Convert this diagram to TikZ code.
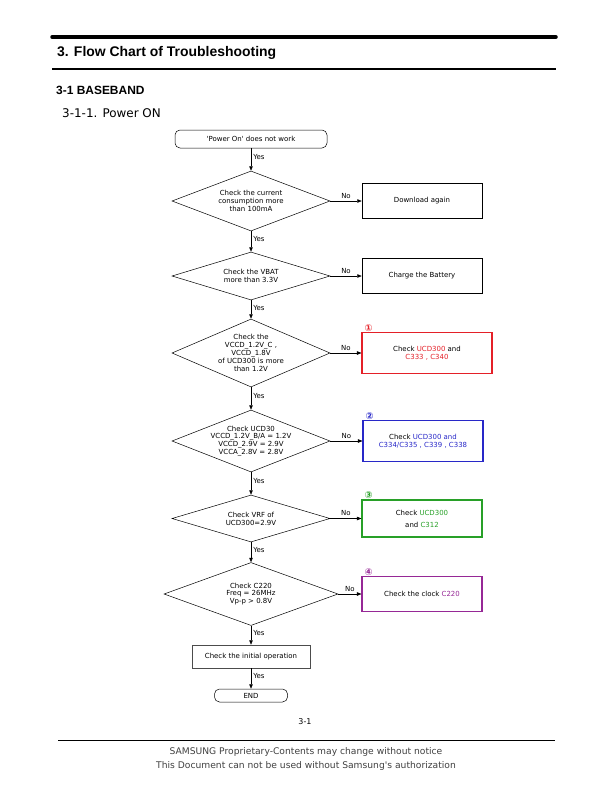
\documentclass[tikz,border=0pt]{standalone}
\usepackage{fontspec}
\setmainfont{Liberation Sans}
\newfontfamily\chartfont{DejaVu Sans}
\usetikzlibrary{shapes.geometric,arrows.meta}

\definecolor{ckred}{RGB}{228,32,40}
\definecolor{ckblue}{RGB}{40,40,200}
\definecolor{ckgreen}{RGB}{40,160,40}
\definecolor{ckpurple}{RGB}{150,40,150}

\tikzset{
  chart/.style={font=\chartfont\fontsize{7}{7.9}\selectfont},
  decision/.style={diamond, draw, line width=0.5bp, chart, align=center,
    inner sep=-12bp, aspect=2.6, minimum width=158bp, minimum height=#1},
  decision/.default=60bp,
  process/.style={rectangle, draw, line width=0.5bp, chart, align=center,
    minimum width=120bp, minimum height=35bp},
  checkbox/.style={process, line width=1.1bp, draw=#1, minimum height=41bp},
  terminal/.style={rectangle, rounded corners=5bp, draw, line width=0.5bp, chart},
  num/.style={anchor=south west, inner sep=0.5bp, xshift=2.5bp,
    font=\chartfont\bfseries\fontsize{9.5}{9.5}\selectfont},
  arr/.style={-{Triangle[length=4.5bp,width=3.5bp]}, line width=0.5bp},
  yes/.style={pos=0.4, anchor=west, inner sep=2bp, chart},
  no/.style={midway, anchor=south, inner sep=2.5bp, chart},
  foot/.style={text=black!75, font=\chartfont\fontsize{9.2}{11}\selectfont},
}

\begin{document}
\begin{tikzpicture}[x=1bp,y=-1bp]
\useasboundingbox (0,0) rectangle (612,792);

% page head
\draw[line width=3.5bp, line cap=round] (52,37) -- (556,37);
\node[anchor=base west, inner sep=0pt, font=\bfseries\fontsize{14}{16}\selectfont] (title) at (57,57) {3. Flow Chart of Troubleshooting};
\draw[line width=2bp] (52,69) -- (556,69);
\node[anchor=base west, inner sep=0pt, font=\bfseries\fontsize{12}{14}\selectfont] (sect) at (56,94) {3-1 BASEBAND};
\node[anchor=base west, inner sep=0pt, font=\chartfont\fontsize{12}{14}\selectfont] (subsect) at (62,117) {3-1-1. Power ON};

% main column
\node[terminal, minimum width=152bp, minimum height=18bp] (start) at (251,139) {\textquotesingle Power On\textquotesingle{} does not work};
\node[decision=60bp] (d1) at (251,201) {Check the current\\consumption more\\than 100mA};
\node[decision=48bp] (d2) at (251,276) {Check the VBAT\\more than 3.3V};
\node[decision=68bp] (d3) at (251,353) {Check the\\VCCD\_1.2V\_C ,\\VCCD\_1.8V\\of UCD300 is more\\than 1.2V};
\node[decision=62bp] (d4) at (251,441) {Check UCD30\\VCCD\_1.2V\_B/A = 1.2V\\VCCD\_2.9V = 2.9V\\VCCA\_2.8V = 2.8V};
\node[decision=47bp] (d5) at (251,518.5) {Check VRF of\\UCD300=2.9V};
\node[decision=63bp, minimum width=174bp] (d6) at (251,594) {Check C220\\Freq = 26MHz\\Vp-p > 0.8V};
\node[process, minimum width=118bp, minimum height=23bp, draw=black!70] (init) at (251,656.5) {Check the initial operation};
\node[terminal, minimum width=73bp, minimum height=13bp] (end) at (251,695.5) {END};

% right column
\node[process] (b1) at (422,201) {Download again};
\node[process] (b2) at (422,276) {Charge the Battery};
\node[checkbox=ckred, minimum width=130bp] (b3) at (427,353) {Check \textcolor{ckred}{UCD300} and\\\textcolor{ckred}{C333 , C340}};
\node[checkbox=ckblue] (b4) at (423,441) {Check \textcolor{ckblue}{UCD300 and}\\\textcolor{ckblue}{C334/C335 , C339 , C338}};
\node[checkbox=ckgreen, minimum height=37bp] (b5) at (422,518.5) {Check \textcolor{ckgreen}{UCD300}\\[4bp]and \textcolor{ckgreen}{C312}};
\node[checkbox=ckpurple, minimum height=35bp] (b6) at (422,594) {Check the clock \textcolor{ckpurple}{C220}};

\node[num, text=ckred] (n1) at (b3.north west) {①};
\node[num, text=ckblue] (n2) at (b4.north west) {②};
\node[num, text=ckgreen] (n3) at (b5.north west) {③};
\node[num, text=ckpurple] (n4) at (b6.north west) {④};

% yes path
\draw[arr] (start) -- (d1) node[yes] {Yes};
\draw[arr] (d1) -- (d2) node[yes] {Yes};
\draw[arr] (d2) -- (d3) node[yes] {Yes};
\draw[arr] (d3) -- (d4) node[yes] {Yes};
\draw[arr] (d4) -- (d5) node[yes] {Yes};
\draw[arr] (d5) -- (d6) node[yes] {Yes};
\draw[arr] (d6) -- (init) node[yes] {Yes};
\draw[arr] (init) -- (end) node[yes] {Yes};

% no path
\draw[arr] (d1) -- (b1) node[no] {No};
\draw[arr] (d2) -- (b2) node[no] {No};
\draw[arr] (d3) -- (b3) node[no] {No};
\draw[arr] (d4) -- (b4) node[no] {No};
\draw[arr] (d5) -- (b5) node[no] {No};
\draw[arr] (d6) -- (b6) node[no] {No};

% page foot
\node[chart, font=\chartfont\fontsize{8}{9}\selectfont] (page) at (305,722) {3-1};
\draw[line width=0.8bp] (58,740) -- (555,740);
\node[foot] (foot1) at (306,752) {SAMSUNG Proprietary-Contents may change without notice};
\node[foot] (foot2) at (306,766) {This Document can not be used without Samsung's authorization};
\end{tikzpicture}
\end{document}
